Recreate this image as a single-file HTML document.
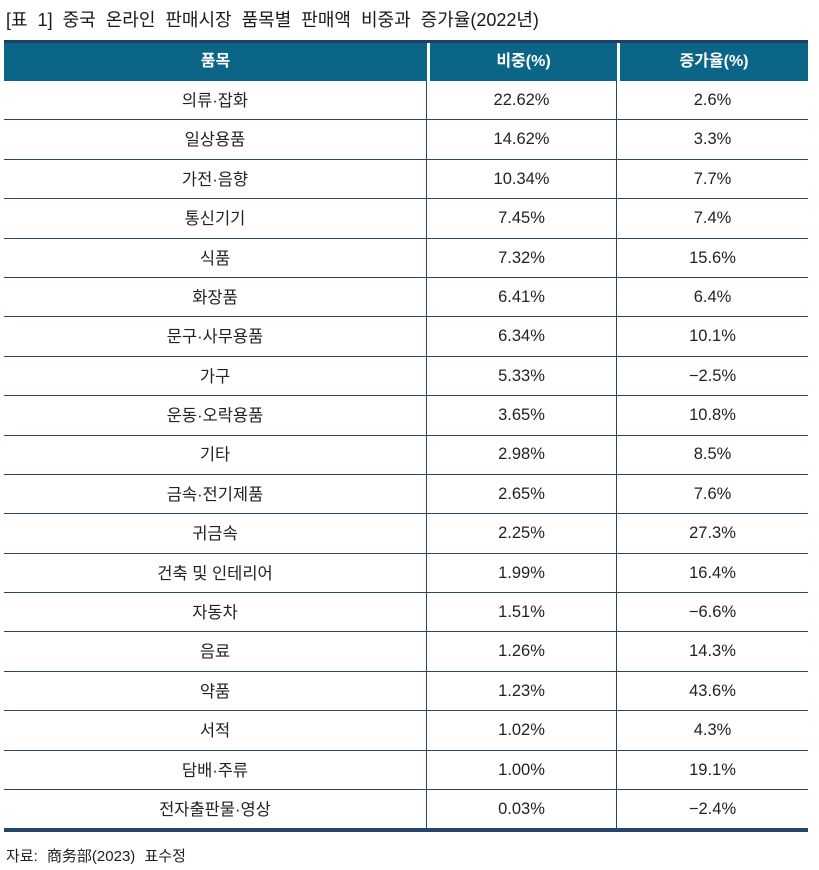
<!DOCTYPE html>
<html><head><meta charset="utf-8">
<style>
body{margin:0;width:819px;height:870px;background:#fff;font-family:"Liberation Sans","Noto Sans CJK KR",sans-serif;color:#222;position:relative;overflow:hidden}
#title{position:absolute;left:6px;top:8px;font-size:18px;word-spacing:5px;color:#1a1a1a;white-space:nowrap;line-height:24px}
#tbl{position:absolute;left:4px;top:40px;width:804px}
.top{height:3px;background:#1f3f66}
.hdr{display:flex;height:38px;background:#0b6587;color:#fff;font-weight:bold;font-size:16px}
.hdr div{display:flex;align-items:center;justify-content:center;line-height:1}
.hdr .c1{width:423px;border-right:3px solid #fff}
.hdr .c2{width:187px;border-right:3px solid #fff}
.hdr .c3{flex:1}
.row{display:flex;height:38.4px;border-top:1px solid #2b4566;font-size:16.5px}
.row div{display:flex;align-items:center;justify-content:center;line-height:1}
.row .c1{width:423px;border-right:1px solid #2b4566;padding-top:2px;box-sizing:border-box}
.row .c2{width:189px;border-right:1px solid #2b4566}
.row .c3{flex:1}
.bot{height:4px;background:#24466b}
#src{position:absolute;left:6px;top:845px;font-size:15px;word-spacing:5px;color:#222}
</style></head><body>
<div id="title">[표 1] 중국 온라인 판매시장 품목별 판매액 비중과 증가율(2022년)</div>
<div id="tbl">
<div class="top"></div>
<div class="hdr">
<div class="c1">품목</div>
<div class="c2">비중(%)</div>
<div class="c3">증가율(%)</div>
</div>
<div id="body"></div>
<div class="bot"></div>
</div>
<div id="src">자료: 商务部(2023) 표수정</div>
<script>
const items=["의류·잡화","일상용품","가전·음향","통신기기","식품","화장품","문구·사무용품","가구","운동·오락용품","기타","금속·전기제품","귀금속","건축 및 인테리어","자동차","음료","약품","서적","담배·주류","전자출판물·영상"];
const shares=["22.62%","14.62%","10.34%","7.45%","7.32%","6.41%","6.34%","5.33%","3.65%","2.98%","2.65%","2.25%","1.99%","1.51%","1.26%","1.23%","1.02%","1.00%","0.03%"];
const growth=["2.6%","3.3%","7.7%","7.4%","15.6%","6.4%","10.1%","−2.5%","10.8%","8.5%","7.6%","27.3%","16.4%","−6.6%","14.3%","43.6%","4.3%","19.1%","−2.4%"];
const body=document.getElementById('body');
items.forEach((it,i)=>{
const r=document.createElement('div');r.className='row';


if(i===0)r.style.borderTop='none';
[[it,'c1','item-cell'],[shares[i],'c2','share-cell'],[growth[i],'c3','growth-cell']].forEach(([t,c,n])=>{
const d=document.createElement('div');d.className=c;d.textContent=t;


r.appendChild(d);});
body.appendChild(r);});
</script>
</body></html>
